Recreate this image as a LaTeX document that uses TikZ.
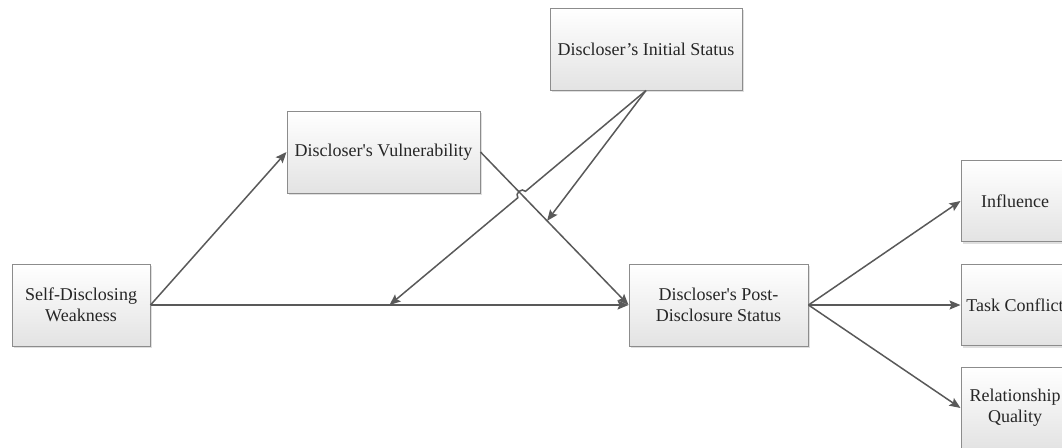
\documentclass[tikz,border=0pt]{standalone}
\usepackage{fontspec}
\setmainfont{Liberation Serif}
\usepackage{tikz}
\usetikzlibrary{calc,positioning,arrows.meta,shadows}

\definecolor{linegray}{HTML}{595959}
\definecolor{boxgray}{HTML}{8C8C8C}
\definecolor{textgray}{HTML}{262626}

\tikzstyle{arrow} = [line width=0.75pt, linegray, -{Stealth[length=5.5pt,width=4.5pt,inset=1pt]}]
\tikzstyle{line} = [line width=0.75pt, linegray]

\begin{document}
\begin{tikzpicture}[x=0.5pt,y=-0.5pt]
\tikzset{%
	block/.style = { rectangle, draw=boxgray, line width=0.5pt, top color=white, bottom color=black!11,
		drop shadow={opacity=0.25, shadow xshift=1.2pt, shadow yshift=-1.2pt},
		minimum height=41pt, inner sep=1pt, align=center, text=textgray,
		font=\fontsize{9}{10.5}\selectfont },
	outcome/.style = { block, minimum width=54pt, minimum height=40.5pt }
}
\useasboundingbox (0,0) rectangle (1062,447);

\node(SDW)			[block, minimum width=69pt] at (81,305)
								{Self-Disclosing\\Weakness};
\node(Vuln)			[block, minimum width=96.5pt, above right=35pt and 68pt of SDW]
								{Discloser\textquotesingle s Vulnerability};
\node(Initial)		[block, minimum width=96pt, above right=10pt and 34.5pt of Vuln]
								{Discloser’s Initial Status};
\node(Post)			[block, minimum width=89.5pt, right=239pt of SDW]
								{Discloser\textquotesingle s Post-\\Disclosure Status};

\node(Task)			[outcome, right=76pt of Post]
								{Task Conflict};
\node(Influence)	[outcome, above=11pt of Task]
								{Influence};
\node(Quality)		[outcome, below=10.5pt of Task]
								{Relationship\\Quality};

\draw [arrow]	(SDW.east) -- (Vuln.west);
\draw [arrow]	(SDW.east) -- coordinate[pos=0.5] (midA) (Post.west);
\draw [arrow]	(Vuln.east) -- coordinate[pos=0.45] (midB) (Post.west);

% moderation arrows, the long one hops over Vuln -> Post
\coordinate (hop) at (intersection of Initial.south--midA and Vuln.east--Post.west);
\draw [arrow]	(Initial.south) -- ($(hop)!2.5pt!(Initial.south)$)
						to[bend right=90, looseness=1.4] ($(hop)!-2.5pt!(Initial.south)$) -- (midA);
\draw [arrow]	(Initial.south) -- (midB);

\draw [arrow]	(Post.east) -- (Influence.west);
\draw [arrow]	(Post.east) -- (Task.west);
\draw [arrow]	(Post.east) -- (Quality.west);

\end{tikzpicture}
\end{document}
